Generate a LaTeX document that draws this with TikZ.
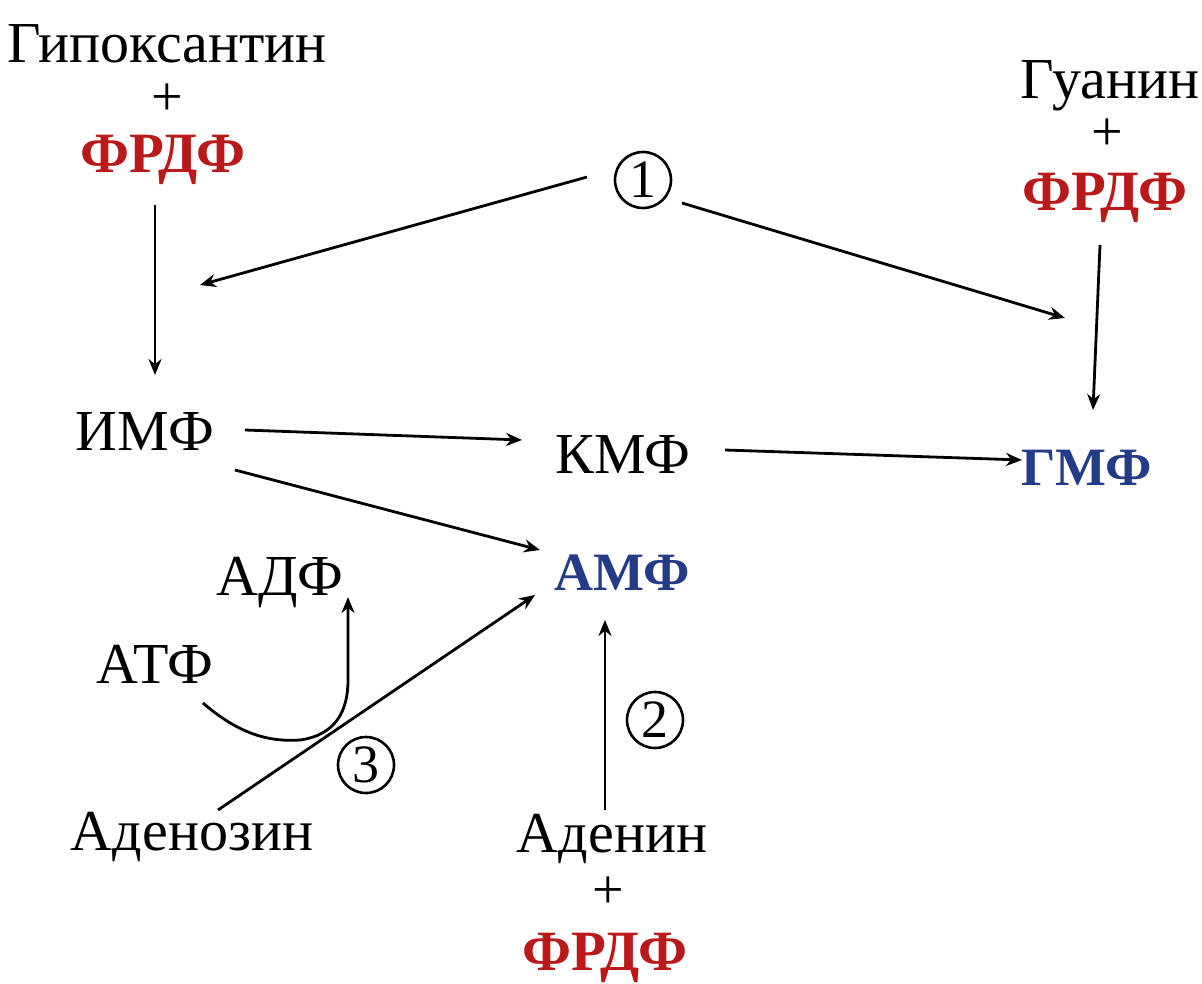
\documentclass[tikz,border=0pt]{standalone}
\usepackage{fontspec}
\setmainfont{Liberation Serif}
\usetikzlibrary{arrows.meta,calc}
\definecolor{fred}{RGB}{185,25,25}
\definecolor{fblue}{RGB}{35,60,135}
\begin{document}
\begin{tikzpicture}[x=1pt,y=-1pt,
  lbl/.style={inner sep=0pt,anchor=base,font=\fontsize{58}{60}\selectfont},
  plus/.style={inner sep=0pt,font=\fontsize{56}{60}\selectfont},
  redb/.style={lbl,text=fred,font=\fontsize{57}{60}\selectfont\bfseries},
  blueb/.style={lbl,text=fblue,font=\fontsize{54}{60}\selectfont\bfseries},
  num/.style={circle,draw,line width=2.6pt,minimum size=56pt,inner sep=0pt,font=\fontsize{54}{56}\selectfont},
  arr/.style={line width=2.8pt,-{Stealth[length=16pt,width=13pt]}},
  ln/.style={line width=2.8pt}]
\useasboundingbox (0,0) rectangle (1202,983);
% top left
\node[lbl] (gipo) at (167,62) {Гипоксантин};
\node[plus] (p1) at (167,100) {+};
\node[redb] (f1) at (163,172) {ФРДФ};
% top right
\node[lbl] (gua) at (1110,98) {Гуанин};
\node[plus] (p2) at (1107,135) {+};
\node[redb] (f2) at (1105,210) {ФРДФ};
% circled 1
\node[num] (n1) at (643,180) {1};
% middle row
\node[lbl] (imf) at (145,450) {ИМФ};
\node[lbl] (kmf) at (623,473) {КМФ};
\node[blueb] (gmf) at (1087,485) {ГМФ};
\node[blueb] (amf) at (622,590) {АМФ};
% lower left
\node[lbl] (adf) at (280,595) {АДФ};
\node[lbl] (atf) at (155,683) {АТФ};
\node[lbl] (aden) at (192,850) {Аденозин};
\node[num] (n3) at (366,765) {3};
% lower middle
\node[lbl] (ade) at (612,852) {Аденин};
\node[plus] (p3) at (608,893) {+};
\node[redb] (f3) at (605,970) {ФРДФ};
\node[num] (n2) at (655,720) {2};
% connectors
\draw[arr] ($(f1.base)+(-8,33)$) -- ($(imf.base)+(10,-75)$);
\draw[arr] ($(n1.center)+(-56,-3)$) -- ($(imf.base)+(55,-165)$);
\draw[arr] ($(n1.center)+(39,23)$) -- ($(gmf.base)+(-22,-167)$);
\draw[arr] ($(f2.base)+(-5,35)$) -- ($(gmf.base)+(6,-75)$);
\draw[arr] ($(imf.base)+(100,-20)$) -- ($(kmf.base)+(-101,-33)$);
\draw[arr] ($(kmf.base)+(102,-23)$) -- ($(gmf.base)+(-65,-25)$);
\draw[arr] ($(imf.base)+(90,20)$) -- ($(amf.base)+(-82,-40)$);
\draw[arr] ($(aden.base)+(26,-40)$) -- ($(amf.base)+(-87,5)$);
\draw[arr] ($(ade.base)+(-7,-42)$) -- ($(amf.base)+(-17,30)$);
\coordinate (cb) at (300,740);
\draw[ln,-{Stealth[length=16pt,width=13pt]}] ($(atf.base)+(48,20)$) .. controls (240,735) and (270,742) .. (cb)
  .. controls (335,735) and (348,712) .. (348,680) -- ($(adf.base)+(68,2)$);
\end{tikzpicture}
\end{document}
